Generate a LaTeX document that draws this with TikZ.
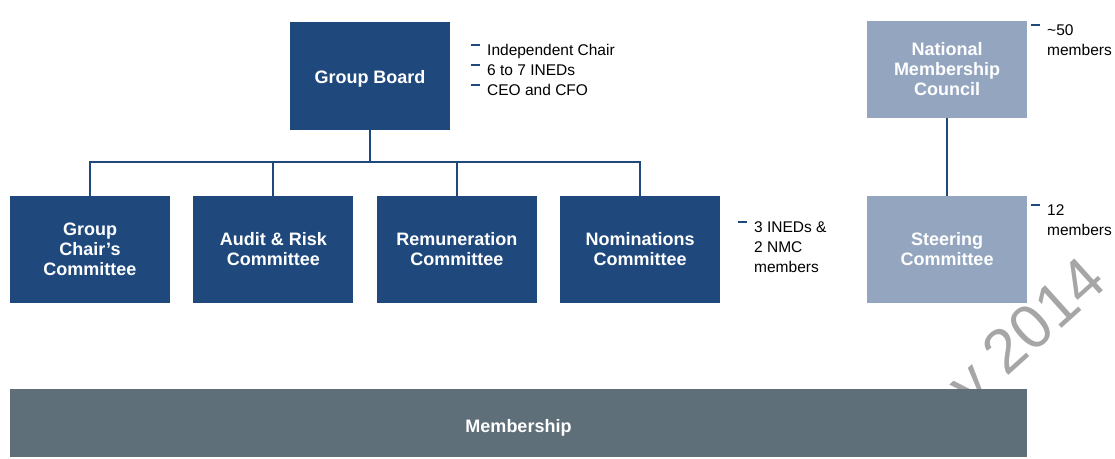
\documentclass[tikz,border=0pt]{standalone}
\usepackage{fontspec}
\setmainfont{Liberation Sans}
\usetikzlibrary{positioning}
\definecolor{navy}{HTML}{1F497D}
\definecolor{slate}{HTML}{94A6BF}
\definecolor{steel}{HTML}{5F6F7A}
\definecolor{wmgray}{HTML}{A6A6A6}
\newcommand{\dashitem}{\leavevmode\llap{\textcolor{navy}{\rule[9.5pt]{9pt}{2pt}}\hspace{7.5pt}}}

\begin{document}
\begin{tikzpicture}[x=1pt, y=-1pt,
  unit/.style={fill=navy, text=white, font=\bfseries\fontsize{18}{20}\selectfont,
               align=center, minimum width=160pt, minimum height=107pt, inner sep=0pt},
  council/.style={unit, fill=slate},
  note/.style={font=\fontsize{15.5}{20}\selectfont, align=left, inner sep=0pt, anchor=north west},
  link/.style={draw=navy, line width=2pt}]
  \useasboundingbox (0,0) rectangle (1115,458);

  % watermark, partly hidden by the boxes
  \node[rotate=42, text=wmgray, font=\fontsize{62}{62}\selectfont, inner sep=0pt] (stamp) at (1030,336) {y 2014};

  \node[unit, minimum height=108pt, text height=19pt, text depth=4pt] (board) at (370,76) {Group Board};
  \node[unit] (chair) at (90,249.5) {Group\\Chair’s\\Committee};
  \node[unit, right=23pt of chair] (audit) {Audit \& Risk\\Committee};
  \node[unit, right=23pt of audit] (remun) {Remuneration\\Committee};
  \node[unit, right=23pt of remun] (nomin) {Nominations\\Committee};

  \node[council, minimum height=97pt] (nmc) at (947,69) {National\\Membership\\Council};
  \node[council] (steer) at (947,249.5) {Steering\\Committee};

  \node[fill=steel, text=white, font=\bfseries\fontsize{18}{20}\selectfont, text height=23pt, text depth=4pt,
        minimum width=1017pt, minimum height=68pt, inner sep=0pt] (members) at (518.5,423) {Membership};

  % tree
  \coordinate (bus) at (370,162);
  \draw[link] (board.south) -- (bus);
  \draw[link] (chair.north) |- (bus) -| (nomin.north);
  \draw[link] (audit.north) -- (audit.north |- bus);
  \draw[link] (remun.north) -- (remun.north |- bus);
  \draw[link] (nmc.south) -- (steer.north);

  % notes
  \node[note] (boardnote) at (487,44) {\dashitem Independent Chair\\\dashitem 6 to 7 INEDs\\\dashitem CEO and CFO};
  \node[note] (nominnote) at (754,221) {\dashitem 3 INEDs \&\\2 NMC\\members};
  \node[note] (nmcnote) at (1047,24) {\dashitem \textasciitilde50\\members};
  \node[note] (steernote) at (1047,204) {\dashitem 12\\members};
\end{tikzpicture}
\end{document}
